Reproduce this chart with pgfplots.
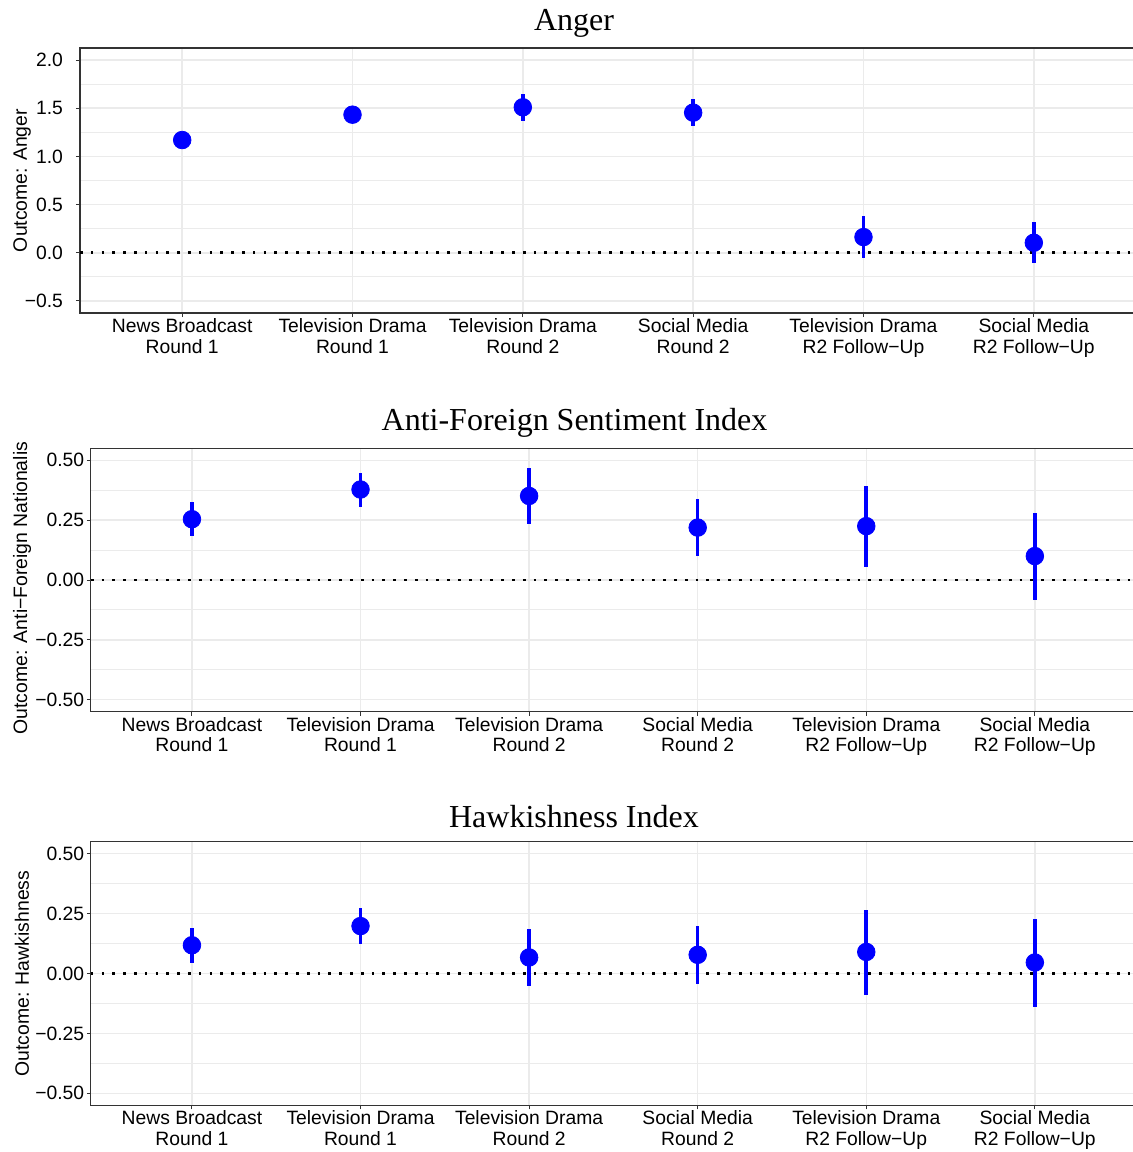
\documentclass[border=0pt]{standalone}
\usepackage{pgfplots}
\pgfplotsset{compat=1.18}
\usepackage{pgfplotstable}
\usepackage{fontspec}
\setmainfont{Liberation Sans}
\newfontfamily\titlefont{Liberation Serif}
\definecolor{gridgray}{HTML}{EBEBEB}
\definecolor{axgray}{HTML}{333333}
\definecolor{ptblue}{RGB}{0,0,255}

\pgfplotstableread{
x y lo hi
1 1.170 1.090 1.250
2 1.433 1.353 1.513
3 1.510 1.371 1.652
4 1.454 1.312 1.597
5 0.163 -0.052 0.381
6 0.104 -0.108 0.316
}\anger

\pgfplotstableread{
x y lo hi
1 0.254 0.185 0.325
2 0.378 0.305 0.447
3 0.351 0.236 0.467
4 0.219 0.100 0.338
5 0.225 0.056 0.393
6 0.100 -0.082 0.281
}\antiforeign

\pgfplotstableread{
x y lo hi
1 0.118 0.044 0.190
2 0.198 0.125 0.273
3 0.067 -0.053 0.185
4 0.078 -0.043 0.197
5 0.090 -0.088 0.267
6 0.046 -0.139 0.229
}\hawk

\pgfplotsset{
  panel/.style={
    scale only axis,
    xmin=0.4, xmax=6.6,
    xtick={1,...,6},
    xticklabels={{News Broadcast\\Round 1},{Television Drama\\Round 1},{Television Drama\\Round 2},{Social Media\\Round 2},{Television Drama\\R2 Follow−Up},{Social Media\\R2 Follow−Up}},
    xticklabel style={align=center, font=\fontsize{9.65}{10.35}\selectfont, inner sep=0.5pt},
    yticklabel style={font=\fontsize{9.65}{10.35}\selectfont},
    ylabel style={font=\fontsize{9.7}{11}\selectfont, anchor=center},
    tick align=outside,
    major tick length=2pt,
    minor tick length=0pt,
    tick style={axgray, line width=0.5pt},
    tick pos=left,
    xmajorgrids, ymajorgrids, yminorgrids,
    minor y tick num=1,
    major grid style={gridgray, line width=0.75pt},
    minor grid style={gridgray, line width=0.55pt},
    axis line style={axgray, line width=0.6pt},
    title style={anchor=base, font=\titlefont\fontsize{16}{19}\selectfont},
  },
  zeroline/.style={black, line width=1.35pt, dash pattern=on 1.35pt off 4.05pt, forget plot},
  pts/.style={only marks, mark=*, mark size=4.4pt, color=ptblue,
    mark options={draw=none, fill=ptblue},
    error bars/.cd, y dir=both, y explicit, error mark=none,
    error bar style={line width=1.8pt, ptblue}},
}

\begin{document}
\begin{tikzpicture}
% Panel 1
\begin{axis}[panel,
  at={(40pt,-156.5pt)}, anchor=south west,
  width=528pt, height=132.5pt,
  ymin=-0.625, ymax=2.125,
  ytick={-0.5,0,0.5,1,1.5,2},
  yticklabels={−0.5,0.0,0.5,1.0,1.5,2.0},
  yticklabel style={xshift=-3pt},
  title={Anger},
  title style={at={(axis description cs:0.4678,1)}, yshift=2.5pt},
  ylabel={Outcome: Anger},
  ylabel style={at={(axis description cs:-0.0549,0.5)}},
]
\addplot[zeroline] coordinates {(0.4,0) (6.6,0)};
\addplot[pts] table[x=x, y=y, y error plus expr=\thisrow{hi}-\thisrow{y}, y error minus expr=\thisrow{y}-\thisrow{lo}] {\anger};
\end{axis}

% Panel 2
\begin{scope}
\clip (0pt,-220pt) -- (40pt,-220pt) -- (40pt,-190pt) -- (570pt,-190pt) -- (570pt,-400pt) -- (0pt,-400pt) -- cycle;
\begin{axis}[panel,
  at={(45.4pt,-355.85pt)}, anchor=south west,
  width=522.6pt, height=131.7pt,
  ymin=-0.55, ymax=0.55,
  ytick={-0.5,-0.25,0,0.25,0.5},
  yticklabels={−0.50,−0.25,0.00,0.25,0.50},
  yticklabel style={xshift=2.2pt},
  title={Anti-Foreign Sentiment Index},
  title style={at={(axis description cs:0.4628,1)}, yshift=3pt},
  ylabel={Outcome: Anti−Foreign Nationalism},
  ylabel style={at={(axis description cs:-0.0658,0.5)}},
]
\addplot[zeroline] coordinates {(0.4,0) (6.6,0)};
\addplot[pts] table[x=x, y=y, y error plus expr=\thisrow{hi}-\thisrow{y}, y error minus expr=\thisrow{y}-\thisrow{lo}] {\antiforeign};
\end{axis}
\end{scope}

% Panel 3
\begin{axis}[panel,
  at={(45.4pt,-552.65pt)}, anchor=south west,
  width=522.6pt, height=131.8pt,
  ymin=-0.55, ymax=0.55,
  ytick={-0.5,-0.25,0,0.25,0.5},
  yticklabels={−0.50,−0.25,0.00,0.25,0.50},
  yticklabel style={xshift=2.2pt},
  title={Hawkishness Index},
  title style={at={(axis description cs:0.4623,1)}, yshift=1pt},
  ylabel={Outcome: Hawkishness},
  ylabel style={at={(axis description cs:-0.0658,0.5)}},
]
\addplot[zeroline] coordinates {(0.4,0) (6.6,0)};
\addplot[pts] table[x=x, y=y, y error plus expr=\thisrow{hi}-\thisrow{y}, y error minus expr=\thisrow{y}-\thisrow{lo}] {\hawk};
\end{axis}

\pgfresetboundingbox
\path[use as bounding box] (0pt,0pt) rectangle (566.5pt,-576pt);
\end{tikzpicture}
\end{document}
